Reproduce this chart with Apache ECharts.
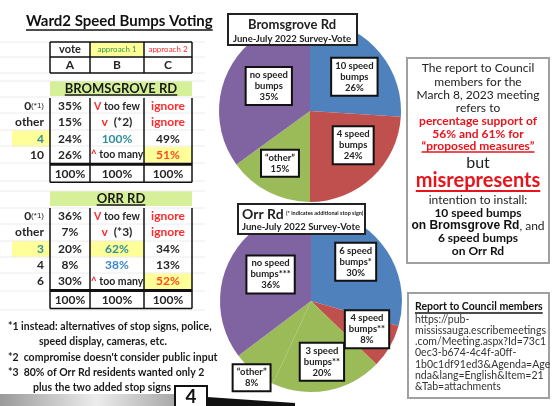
<!DOCTYPE html>
<html>
<head>
<meta charset="utf-8">
<script src="https://cdn.jsdelivr.net/npm/echarts@6/dist/echarts.min.js"></script>
<style>
html, body { margin: 0; padding: 0; background: #fff; }
#main { width: 558px; height: 406px; }
</style>
</head>
<body>
<div id="main"></div>
<script>
const FONT = 'Lato';

// pie data
const bromsNames = ['10 speed\nbumps', '4 speed\nbumps', '“other”', 'no speed\nbumps'];
const bromsValues = [26, 24, 15, 35];
const orrNames = ['6 speed\nbumps*', '4 speed\nbumps**', '3 speed\nbumps**', '“other”', 'no speed\nbumps***'];
const orrValues = [30, 8, 20, 8, 36];

// table data
const colHeads = ['vote', 'approach 1', 'approach 2'];
const colLetters = ['A', 'B', 'C'];
const bromsRows = ['0{s|(*1)}', 'other', '4', '10'];
const bromsA = ['35%', '15%', '24%', '26%'];
const bromsB = ['{r|V} too few', '{r|v}  (*2)', '100%', '{r|^} too many'];
const bromsC = ['ignore', 'ignore', '49%', '51%'];
const orrRows = ['0{s|(*1)}', 'other', '3', '4', '6'];
const orrA = ['36%', '7%', '20%', '8%', '30%'];
const orrB = ['{r|V} too few', '{r|v}  (*3)', '62%', '38%', '{r|^} too many'];
const orrC = ['ignore', 'ignore', '34%', '13%', '52%'];
const totals = ['100%', '100%', '100%'];

const footnotes = [
  '*1 instead: alternatives of stop signs, police,',
  'speed display, cameras, etc.',
  '*2  compromise doesn\'t consider public input',
  '*3  80% of Orr Rd residents wanted only 2',
  'plus the two added stop signs'
];

const reportLines = [
  'The report to Council', 'members for the', 'March 8, 2023 meeting', 'refers to',
  'percentage support of', '56% and 61% for', '“proposed measures”', 'but', 'misrepresents',
  'intention to install:', '10 speed bumps', '{b|on Bromsgrove Rd}, and', '6 speed bumps', 'on Orr Rd'
];
const linkLines = [
  'https://pub-', 'mississauga.escribemeetings', '.com/Meeting.aspx?Id=73c1',
  '0ec3-b674-4c4f-a0ff-', '1b0c1df91ed3&Agenda=Age', 'nda&lang=English&Item=21', '&Tab=attachments'
];

const chart = echarts.init(document.getElementById('main'));
const g = [];
const mctx = document.createElement('canvas').getContext('2d');
function textW(s, size, weight) {
  mctx.font = (weight || 'bold') + ' ' + size + 'px ' + FONT;
  return mctx.measureText(s).width;
}
function box(x, y, w, h, fill, stroke, lw, z) {
  g.push({ type: 'rect', silent: true, z: z || 1, shape: { x: x, y: y, width: w, height: h },
    style: { fill: fill || 'none', stroke: stroke || null, lineWidth: lw || 0 } });
}
function seg(x1, y1, x2, y2, stroke, lw, z) {
  g.push({ type: 'line', silent: true, z: z || 2, shape: { x1: x1, y1: y1, x2: x2, y2: y2 },
    style: { stroke: stroke, lineWidth: lw } });
}
function txt(x, y, s, o) {
  o = o || {};
  const a = o.a || 'center';
  g.push({ type: 'text', silent: true, z: o.z || 3, x: x, y: y,
    style: { text: s, fill: o.c || '#262626', font: (o.w || 'bold') + ' ' + (o.s || 12) + 'px ' + FONT,
      textAlign: a, align: a, textVerticalAlign: 'middle', verticalAlign: 'middle', rich: o.rich } });
}
function ul(x, y, s, size, weight, color, align, lw) {
  const w = textW(s, size, weight);
  const x0 = align === 'left' ? x : x - w / 2;
  seg(x0, y, x0 + w, y, color, lw || 1.2, 4);
}

const RED = '#ff2a2a', TEAL = '#2e8f9a', YEL = '#ffff99', GRN = '#d6f09a';
const richT = { r: { fill: RED }, s: { fontSize: 8 } };

// faint spreadsheet grid
[42, 57, 73, 81, 97, 113, 130, 146, 163, 181, 191, 208, 224, 241, 257, 273, 291, 310].forEach(y => seg(0, y, 205, y, '#ececec', 1, 0));

// title
txt(26, 21, 'Ward2 Speed Bumps Voting', { s: 15, a: 'left', c: '#111' });
ul(26, 30, 'Ward2 Speed Bumps Voting', 15, 'bold', '#111', 'left', 1.6);

// header
const colX = [50, 90, 144, 192];
const colC = [70, 117, 168];
box(90, 42, 54, 15, YEL);
colHeads.forEach((h, i) => txt(colC[i], 49.5, h, { s: i ? 8 : 11, w: i ? 'normal' : 'bold', c: i === 1 ? '#3a9a4a' : (i === 2 ? RED : '#262626') }));
colLetters.forEach((h, i) => txt(colC[i], 65, h, { s: 12 }));
[42, 57, 73].forEach(y => seg(50, y, 192, y, '#111', 1.5));
colX.forEach(x => seg(x, 42, x, 73, '#111', 1.5));

function section(title, top, rows, A, B, C, hl) {
  box(50, top, 142, 15, GRN);
  txt(121, top + 7.5, title, { s: 13, c: '#1a1a1a' });
  ul(121, top + 14, title, 13, 'bold', '#1a1a1a', 'center', 1.3);
  const r0 = top + 17, h = 16.3;
  // highlights
  box(12, r0 + hl.label * h, 38, h, YEL);
  if (hl.b != null) box(90, r0 + hl.b * h, 54, h, YEL);
  box(144, r0 + hl.c * h, 48, h, YEL);
  rows.forEach((r, i) => {
    const cy = r0 + i * h + h / 2;
    txt(44, cy, r, { a: 'right', rich: richT, c: i === hl.label ? TEAL : '#262626' });
    txt(colC[0], cy, A[i]);
    let bc = '#262626';
    if (i === hl.label) bc = TEAL;
    if (hl.blue === i) bc = '#3a86c8';
    txt(colC[1], cy, B[i], { rich: richT, c: bc, s: B[i].indexOf('too') >= 0 ? 10.5 : 12 });
    let cc = '#262626';
    if (C[i] === 'ignore') cc = RED;
    if (i === hl.c) cc = '#ff4a1a';
    txt(colC[2], cy, C[i], { c: cc });
  });
  const tTop = r0 + rows.length * h + 1;
  colX.forEach(x => seg(x, r0, x, tTop + 18, '#111', 1.5));
  seg(50, tTop, 192, tTop, '#111', 3);
  seg(50, tTop + 18, 192, tTop + 18, '#111', 1.5);
  totals.forEach((t, i) => txt(colC[i], tTop + 9.5, t));
}
section('BROMSGROVE RD', 81, bromsRows, bromsA, bromsB, bromsC, { label: 2, c: 3, b: null });
section('ORR RD', 191, orrRows, orrA, orrB, orrC, { label: 2, c: 4, b: 2, blue: 3 });

// footnotes
const fnX = [8, 39, 8, 8, 33];
const fnY = [327, 342, 358, 373, 388];
footnotes.forEach((f, i) => txt(fnX[i], fnY[i], f, { s: 10.5, a: 'left', c: '#1a1a1a' }));

// bottom bar, page number, arrow
g.push({ type: 'rect', silent: true, z: 1, shape: { x: 0, y: 394, width: 175, height: 12 },
  style: { fill: new echarts.graphic.LinearGradient(0, 0, 1, 0, [
    { offset: 0, color: '#9a9a9a' }, { offset: 0.55, color: '#ececec' }, { offset: 1, color: '#a8a8a8' }]) } });
g.push({ type: 'polygon', silent: true, z: 1, shape: { points: [[207, 397], [295, 403], [295, 406], [207, 406]] }, style: { fill: '#111' } });
box(175, 386, 32, 22, '#fff', '#111', 2, 5);
txt(191, 397, '4', { s: 19, z: 6, c: '#111' });

// report box
box(407, 58, 142, 205, '#fff', '#a0a0a0', 2, 1);
const rpY = [68, 82, 95, 108, 121, 134, 146, 163, 181, 200, 213, 226, 238, 251];
reportLines.forEach((l, i) => {
  let o = { s: 12, w: 'normal', c: '#222' };
  if (i >= 4 && i <= 6) o = { s: 12, w: 'bold', c: '#e8141c' };
  if (i === 7) o = { s: 16, w: 'normal', c: '#222' };
  if (i === 8) o = { s: 20, w: 'bold', c: '#e8141c' };
  if (i === 10 || i === 12 || i === 13) o = { s: 12, w: 'bold', c: '#111' };
  if (i === 11) o = { s: 12, w: 'normal', c: '#222', rich: { b: { fontWeight: 'bold', fill: '#111' } } };
  txt(478, rpY[i], l, o);
});
ul(478, 152, reportLines[6], 12, 'bold', '#e8141c', 'center', 1.3);
ul(478, 191, reportLines[8], 20, 'bold', '#e8141c', 'center', 2);

// link box
box(408, 293, 141, 105, '#fff', '#a0a0a0', 2, 1);
txt(415, 307, 'Report to Council members', { s: 10.5, a: 'left', c: '#111' });
ul(415, 313, 'Report to Council members', 10.5, 'bold', '#111', 'left', 1.3);
linkLines.forEach((l, i) => txt(415, 319.5 + i * 11.2, l, { s: 10.5, w: 'normal', a: 'left', c: '#333' }));

// pie title boxes
box(228, 14, 129, 31, '#fff', '#222', 2, 100);
txt(292, 25, 'Bromsgrove Rd', { s: 13, z: 101, c: '#222' });
txt(292, 39, 'June-July 2022 Survey-Vote', { s: 9.5, z: 101, c: '#222' });
box(238, 204, 127, 30, '#fff', '#222', 2, 100);
txt(242, 214, 'Orr Rd', { s: 14, a: 'left', z: 101, c: '#222' });
txt(286, 213, '(* indicates additional stop sign)', { s: 5.5, a: 'left', z: 101, c: '#222' });
txt(301, 227, 'June-July 2022 Survey-Vote', { s: 9.5, z: 101, c: '#222' });

const bromsShift = [[9, -1], [10, -1], [-8, 9], [2, -3]];
const orrShift = [[6, -10], [14, 4], [2, 13], [-29, 39], [3, -5]];

function pie(names, values, center, colors, shift) {
  return {
    type: 'pie', center: center, radius: 91, startAngle: 90, clockwise: true,
    animation: false, silent: true, color: colors,
    data: names.map((n, i) => ({ name: n, value: values[i] })),
    label: {
      position: 'inside', formatter: p => p.name + '\n' + p.value + '%',
      color: '#222', fontFamily: FONT, fontSize: 9.5, fontWeight: 'bold', lineHeight: 11,
      backgroundColor: '#fff', borderColor: '#111', borderWidth: 2, padding: [2, 3, 1, 3], align: 'center'
    },
    labelLine: { show: false },
    labelLayout: p => ({ dx: shift[p.dataIndex][0], dy: shift[p.dataIndex][1] }),
    emphasis: { disabled: true }
  };
}

chart.setOption({
  backgroundColor: '#fff',
  animation: false,
  series: [
    pie(bromsNames, bromsValues, [310, 111], ['#4f81bd', '#c0504d', '#9bbb59', '#8064a2'], bromsShift),
    pie(orrNames, orrValues, [311, 301], ['#4f81bd', '#c0504d', '#9bbb59', '#8064a2', '#4bacc6'], orrShift)
  ],
  graphic: { elements: g }
});
</script>
</body>
</html>
